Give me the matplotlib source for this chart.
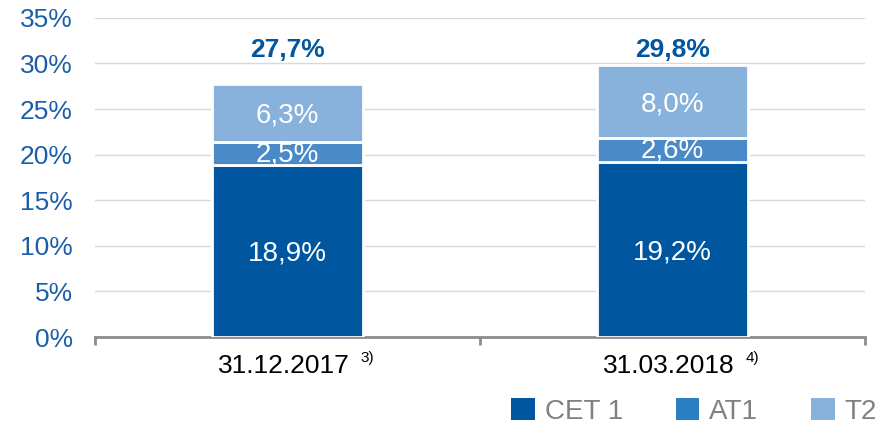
import matplotlib.pyplot as plt
from matplotlib.patches import Patch

plt.rcParams['font.family'] = ['Liberation Sans', 'DejaVu Sans']

# data
dates = ['31.12.2017', '31.03.2018']
notes = ['3)', '4)']
cet1 = [18.9, 19.2]
at1 = [2.5, 2.6]
t2 = [6.3, 8.0]
totals = [27.7, 29.8]
series_names = ['CET 1', 'AT1', 'T2']

c_cet1 = '#0057a0'
c_at1 = '#4a8ac8'
c_t2 = '#88b1dc'
c_at1_leg = '#2a7fc0'
blue_txt = '#1a5ea8'

fig = plt.figure(figsize=(8.8, 4.25), dpi=100)
ax = fig.add_axes([0.108, 0.207, 0.875, 0.751])

x = list(range(len(dates)))
w = 0.39
bottoms2 = [a + b for a, b in zip(cet1, at1)]
ax.bar(x, cet1, w, color=c_cet1, edgecolor='white', linewidth=2, zorder=3)
ax.bar(x, at1, w, bottom=cet1, color=c_at1, edgecolor='white', linewidth=2, zorder=3)
ax.bar(x, t2, w, bottom=bottoms2, color=c_t2, edgecolor='white', linewidth=2, zorder=3)

for i in x:
    ax.text(i, cet1[i] / 2 - 0.3, f'{cet1[i]:.1f}%'.replace('.', ','), ha='center', va='center',
            color='white', fontsize=20, zorder=4)
    ax.text(i, cet1[i] + at1[i] / 2 - 0.1, f'{at1[i]:.1f}%'.replace('.', ','), ha='center', va='center',
            color='white', fontsize=20, zorder=4)
    ax.text(i, bottoms2[i] + t2[i] / 2 - 0.3, f'{t2[i]:.1f}%'.replace('.', ','), ha='center', va='center',
            color='white', fontsize=20, zorder=4)
    ax.text(i, 31.5, f'{totals[i]:.1f}%'.replace('.', ','), ha='center', va='center',
            color=c_cet1, fontsize=19, fontweight='bold', zorder=4)
    # category label with footnote
    ax.annotate(dates[i], xy=(i, 0), xycoords=('data', 'axes fraction'),
                xytext=(-2.5, -21), textcoords='offset points', ha='center', va='center',
                fontsize=19, color='black', annotation_clip=False)
    ax.annotate(notes[i], xy=(i, 0), xycoords=('data', 'axes fraction'),
                xytext=(52.5, -15), textcoords='offset points', ha='left', va='center',
                fontsize=11, color='black', annotation_clip=False)

ax.set_xlim(-0.5, 1.5)
ax.set_ylim(0, 35)
ax.set_yticks(range(0, 36, 5))
ax.set_yticklabels([f'{v}%' for v in range(0, 36, 5)], fontsize=19, color=blue_txt)
ax.tick_params(axis='y', length=0, pad=16)
ax.set_xticks([-0.5, 0.5, 1.5])
ax.set_xticklabels([])
ax.tick_params(axis='x', direction='out', length=6, width=2, color='#8c8c8c')

ax.yaxis.grid(True, color='#d9d9d9', linewidth=1, zorder=0)
ax.set_axisbelow(True)
for s in ['top', 'right', 'left']:
    ax.spines[s].set_visible(False)
ax.spines['bottom'].set_color('#8c8c8c')
ax.spines['bottom'].set_linewidth(2)

handles = [Patch(facecolor=c, edgecolor='none') for c in [c_cet1, c_at1_leg, c_t2]]
leg = fig.legend(handles, series_names, loc='lower right', bbox_to_anchor=(1.025, -0.058), ncol=3,
                 frameon=False, fontsize=20, handlelength=0.85, handleheight=0.85,
                 handletextpad=0.36, columnspacing=1.9)
for t in leg.get_texts():
    t.set_color('#808080')

fig.savefig('out.png', dpi=100)
